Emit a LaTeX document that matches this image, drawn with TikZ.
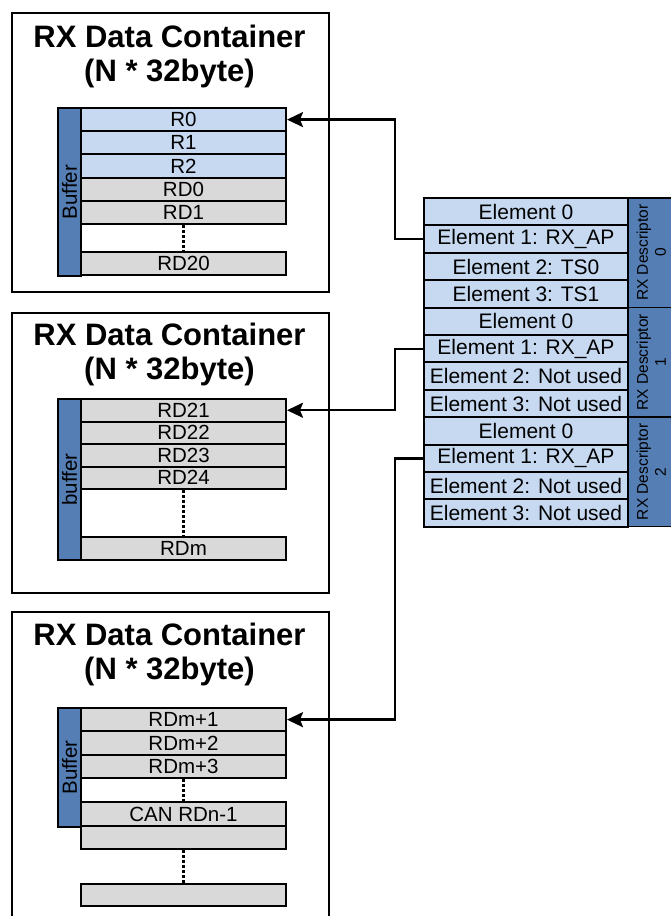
\documentclass[tikz,border=0pt]{standalone}
\usepackage{fontspec}
\setmainfont{Liberation Sans}
\usetikzlibrary{arrows.meta}
\definecolor{lblue}{RGB}{198,217,241}
\definecolor{lgray}{RGB}{217,217,217}
\definecolor{dblue}{RGB}{84,126,180}
\begin{document}
\begin{tikzpicture}[x=1pt,y=-1pt,
  container/.style={draw=black, line width=1.8pt, inner sep=0pt, anchor=north west},
  titletext/.style={font=\bfseries\fontsize{31}{34}\selectfont, align=center},
  cell/.style={draw=black, line width=2pt, minimum width=205pt, inner sep=0pt,
               font=\fontsize{20.5}{20.5}\selectfont, anchor=north west},
  bcell/.style={cell, fill=lblue},
  gcell/.style={cell, fill=lgray},
  strip/.style={draw=black, line width=2pt, fill=dblue, inner sep=0pt, anchor=north west, minimum width=23pt},
  striptext/.style={rotate=90, font=\fontsize{20.5}{20.5}\selectfont},
  elem/.style={draw=black, line width=2pt, fill=lblue, minimum width=204pt, minimum height=27.4pt,
               inner sep=0pt, font=\fontsize{21}{21}\selectfont, anchor=north west},
  dstrip/.style={draw=black, line width=1.6pt, fill=dblue, minimum width=45pt, minimum height=109.6pt,
                 inner sep=0pt, anchor=north west},
  dtext/.style={rotate=90, align=center, font=\fontsize{15.5}{18}\selectfont},
  dots/.style={line width=3pt, dash pattern=on 3pt off 2pt},
  conn/.style={line width=2.4pt, -{Stealth[length=16pt,width=15pt,inset=3pt]}}
]
\useasboundingbox (0,0) rectangle (671,916);
\clip (0,0) rectangle (671,916);

% ---------- Container 1 ----------
\node[container, minimum width=317pt, minimum height=279pt] (c1) at (11,12) {};
\node[titletext] (t1) at (169.5,56) {RX Data Container\\(N * 32byte)};
\node[strip, minimum height=168pt] (s1) at (57,107) {};
\node[striptext] (s1t) at (s1.center) {Buffer};
\node[bcell, minimum height=23.2pt] (r0) at (80,107) {R0};
\node[bcell, minimum height=23.2pt] (r1) at (80,130.2) {R1};
\node[bcell, minimum height=23.2pt] (r2) at (80,153.4) {R2};
\node[gcell, minimum height=23.2pt] (rd0) at (80,176.6) {RD0};
\node[gcell, minimum height=23.2pt] (rd1) at (80,199.8) {RD1};
\node[gcell, minimum height=23pt] (rd20) at (80,251) {RD20};
\draw[dots] (rd1.south) -- (rd20.north);

% ---------- Container 2 ----------
\node[container, minimum width=317pt, minimum height=280pt] (c2) at (11,312) {};
\node[titletext] (t2) at (169.5,354.5) {RX Data Container\\(N * 32byte)};
\node[strip, minimum height=161pt] (s2) at (57,398) {};
\node[striptext] (s2t) at (s2.center) {buffer};
\node[gcell, minimum height=22.5pt] (rd21) at (80,398) {RD21};
\node[gcell, minimum height=22.5pt] (rd22) at (80,420.5) {RD22};
\node[gcell, minimum height=22.5pt] (rd23) at (80,443) {RD23};
\node[gcell, minimum height=22.5pt] (rd24) at (80,465.5) {RD24};
\node[gcell, minimum height=23pt] (rdm) at (80,536) {RDm};
\draw[dots] (rd24.south) -- (rdm.north);

% ---------- Container 3 ----------
\node[container, minimum width=317pt, minimum height=330pt] (c3) at (11,611) {};
\node[titletext] (t3) at (169.5,654.5) {RX Data Container\\(N * 32byte)};
\node[strip, minimum height=119pt] (s3) at (57,707) {};
\node[striptext] (s3t) at (s3.center) {Buffer};
\node[gcell, minimum height=23.3pt] (rdm1) at (80,707) {RDm+1};
\node[gcell, minimum height=23.3pt] (rdm2) at (80,730.3) {RDm+2};
\node[gcell, minimum height=23.3pt] (rdm3) at (80,753.6) {RDm+3};
\node[gcell, minimum height=24pt] (rdn1) at (80,801) {CAN RDn-1};
\node[gcell, minimum height=23pt] (blk1) at (80,825) {};
\node[gcell, minimum height=22pt] (blk2) at (80,883) {};
\draw[dots] (rdm3.south) -- (rdn1.north);
\draw[dots] (blk1.south) -- (blk2.north);

% ---------- Descriptors ----------
\node[elem] (d0e0) at (423,197)   {Element 0};
\node[elem] (d0e1) at (423,224.4) {Element 1: RX\_AP};
\node[elem] (d0e2) at (423,251.8) {Element 2: TS0};
\node[elem] (d0e3) at (423,279.2) {Element 3: TS1};
\node[elem] (d1e0) at (423,306.6) {Element 0};
\node[elem] (d1e1) at (423,334)   {Element 1: RX\_AP};
\node[elem] (d1e2) at (423,361.4) {Element 2: Not used};
\node[elem] (d1e3) at (423,388.8) {Element 3: Not used};
\node[elem] (d2e0) at (423,416.2) {Element 0};
\node[elem] (d2e1) at (423,443.6) {Element 1: RX\_AP};
\node[elem] (d2e2) at (423,471)   {Element 2: Not used};
\node[elem] (d2e3) at (423,498.4) {Element 3: Not used};

\node[dstrip] (ds0) at (627,197)   {};
\node[dstrip] (ds1) at (627,306.6) {};
\node[dstrip] (ds2) at (627,416.2) {};
\node[dtext] (ds0t) at ([xshift=1pt]ds0.center) {RX Descriptor\\0};
\node[dtext] (ds1t) at ([xshift=1pt]ds1.center) {RX Descriptor\\1};
\node[dtext] (ds2t) at ([xshift=1pt]ds2.center) {RX Descriptor\\2};

% ---------- Connectors ----------
\draw[conn] (d0e1.west) -- ++(-28,0) |- (r0.east);
\draw[conn] (d1e1.west) -- ++(-28,0) |- (rd21.east);
\draw[conn] (d2e1.west) -- ++(-28,0) |- (rdm1.east);
\end{tikzpicture}
\end{document}
